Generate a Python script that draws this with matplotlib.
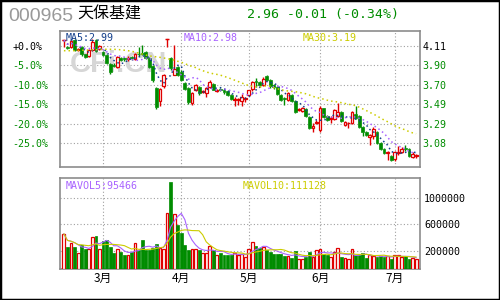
'''
天保基建 日K线 + 成交量
'''
import numpy as np
import pandas as pd
import matplotlib
matplotlib.use('Agg')
from matplotlib import pyplot as plt
from matplotlib.patches import Rectangle


# 近似日K数据
opens = [4.17, 4.10, 4.10, 4.17, 4.07, 4.10, 4.02, 4.00, 4.07, 4.17,
         4.075, 4.05, 4.01, 3.92, 3.91, 3.89, 3.98, 3.98, 3.97, 3.99,
         3.97, 4.03, 4.04, 4.05, 3.98, 3.90, 3.67, 3.53, 3.69, 4.18,
         3.98, 3.80, 3.89, 3.84, 3.72, 3.67, 3.51, 3.65, 3.68, 3.62,
         3.61, 3.68, 3.71, 3.63, 3.66, 3.65, 3.63, 3.59, 3.54, 3.54,
         3.53, 3.55, 3.59, 3.66, 3.74, 3.73, 3.70, 3.79, 3.75, 3.70,
         3.68, 3.59, 3.56, 3.54, 3.59, 3.53, 3.43, 3.42, 3.44, 3.36,
         3.24, 3.30, 3.22, 3.45, 3.37, 3.34, 3.34, 3.37, 3.41, 3.28,
         3.295, 3.30, 3.39, 3.37, 3.25, 3.20, 3.15, 3.16, 3.20, 3.09,
         3.02, 2.985, 2.95, 2.92, 2.985, 2.99, 3.03, 3.02, 2.94, 2.95]
highs = [4.17, 4.11, 4.17, 4.18, 4.09, 4.11, 4.03, 4.08, 4.18, 4.18,
         4.12, 4.06, 4.02, 3.93, 3.93, 4.00, 3.99, 3.99, 4.00, 4.00,
         4.04, 4.10, 4.12, 4.06, 3.99, 3.91, 3.68, 3.67, 3.81, 4.18,
         3.99, 4.12, 3.90, 3.86, 3.73, 3.68, 3.62, 3.71, 3.69, 3.65,
         3.68, 3.75, 3.72, 3.66, 3.67, 3.66, 3.64, 3.60, 3.57, 3.56,
         3.60, 3.57, 3.65, 3.74, 3.77, 3.74, 3.78, 3.80, 3.76, 3.71,
         3.69, 3.60, 3.57, 3.62, 3.60, 3.54, 3.45, 3.47, 3.45, 3.37,
         3.30, 3.33, 3.48, 3.46, 3.38, 3.37, 3.44, 3.51, 3.42, 3.32,
         3.31, 3.42, 3.48, 3.38, 3.26, 3.21, 3.18, 3.25, 3.21, 3.10,
         3.03, 3.00, 2.96, 3.00, 3.05, 3.04, 3.06, 3.03, 2.99, 2.97]
lows = [4.10, 4.08, 4.09, 4.06, 4.06, 4.00, 3.98, 3.99, 4.06, 4.05,
        4.07, 4.00, 3.92, 3.81, 3.89, 3.88, 3.95, 3.95, 3.95, 3.96,
        3.96, 4.00, 4.01, 3.97, 3.88, 3.73, 3.44, 3.48, 3.67, 4.10,
        3.86, 3.80, 3.79, 3.74, 3.65, 3.50, 3.49, 3.63, 3.59, 3.61,
        3.57, 3.67, 3.64, 3.62, 3.63, 3.60, 3.58, 3.54, 3.48, 3.49,
        3.48, 3.52, 3.58, 3.63, 3.68, 3.69, 3.69, 3.74, 3.67, 3.66,
        3.59, 3.53, 3.49, 3.53, 3.52, 3.40, 3.42, 3.41, 3.36, 3.23,
        3.20, 3.29, 3.20, 3.35, 3.32, 3.30, 3.33, 3.36, 3.31, 3.26,
        3.24, 3.29, 3.34, 3.24, 3.16, 3.16, 3.06, 3.13, 3.08, 3.01,
        2.97, 2.91, 2.90, 2.90, 2.96, 2.98, 3.00, 2.94, 2.93, 2.93]
closes = [4.17, 4.09, 4.16, 4.07, 4.08, 4.02, 3.99, 4.07, 4.15, 4.06,
          4.11, 4.01, 3.93, 3.84, 3.90, 3.99, 3.96, 3.97, 3.98, 3.98,
          4.02, 4.02, 4.02, 3.98, 3.89, 3.75, 3.47, 3.66, 3.80, 4.18,
          3.88, 3.87, 3.80, 3.75, 3.66, 3.52, 3.61, 3.70, 3.61, 3.63,
          3.67, 3.73, 3.65, 3.65, 3.65, 3.62, 3.59, 3.55, 3.55, 3.55,
          3.57, 3.56, 3.64, 3.73, 3.73, 3.70, 3.76, 3.75, 3.69, 3.68,
          3.60, 3.54, 3.55, 3.61, 3.53, 3.41, 3.44, 3.46, 3.37, 3.24,
          3.26, 3.31, 3.45, 3.36, 3.33, 3.35, 3.43, 3.41, 3.32, 3.31,
          3.30, 3.41, 3.35, 3.25, 3.20, 3.17, 3.17, 3.23, 3.09, 3.02,
          2.98, 2.99, 2.91, 2.99, 2.99, 3.02, 3.02, 2.95, 2.97, 2.96]
volumes = [458000, 263000, 323000, 263000, 173000, 288000, 238000, 238000, 408000, 433000,
           238000, 358000, 368000, 263000, 173000, 238000, 188000, 148000, 148000, 188000,
           323000, 223000, 373000, 223000, 223000, 248000, 313000, 248000, 238000, 773000,
           1238000, 758000, 598000, 473000, 298000, 223000, 238000, 238000, 223000, 173000,
           173000, 273000, 223000, 138000, 173000, 148000, 138000, 148000, 173000, 138000,
           158000, 113000, 233000, 338000, 278000, 248000, 263000, 223000, 188000, 158000,
           158000, 158000, 133000, 123000, 98000, 203000, 83000, 83000, 113000, 188000,
           113000, 218000, 233000, 158000, 138000, 113000, 188000, 248000, 113000, 98000,
           83000, 233000, 138000, 138000, 168000, 98000, 138000, 123000, 113000, 123000,
           113000, 123000, 83000, 148000, 138000, 108000, 123000, 83000, 98000, 88000]

# 前29天窗口不足30日，MA30直接按图上读数
ma30_head = [4.06, 4.06, 4.06, 4.06, 4.063, 4.065, 4.065, 4.068, 4.07, 4.07,
             4.072, 4.075, 4.075, 4.075, 4.075, 4.072, 4.07, 4.065, 4.06, 4.055,
             4.045, 4.035, 4.025, 4.015, 4.005, 4.0, 3.995, 3.99, 3.983]

month_start = [11, 33, 52, 72, 93]
month_labels = ['3月', '4月', '5月', '6月', '7月']

base_price = 4.11
pct_levels = [0, -5, -10, -15, -20, -25]
vol_ticks = [200000, 600000, 1000000]

stock_code = '000965'
stock_name = '天保基建'
quote_text = '2.96 -0.01 (-0.34%)'
ma_texts = ['MA5:2.99', 'MA10:2.98', 'MA30:3.19']
mavol_texts = ['MAVOL5:95466', 'MAVOL10:111128']

RED = '#e00000'
GREEN = '#008c00'
C_MA5 = '#14408c'
C_MA10 = '#a862ff'
C_MA30 = '#cccc00'
GRID = '#a0a0a0'
FRAME = '#8c8c8c'
MONO = 'DejaVu Sans Mono'
CJK = 'Noto Sans CJK SC'

o = np.array(opens)
h = np.array(highs)
l = np.array(lows)
c = np.array(closes)
v = np.array(volumes)
x = np.arange(len(c))
up = c >= o
colors = np.where(up, RED, GREEN)

fig = plt.figure(figsize=(5, 3), dpi=100)
fig.patch.set_facecolor('white')
fig.add_artist(Rectangle((0, 0), 1, 1, transform=fig.transFigure,
                         fill=False, edgecolor='black', lw=2.5))

ax = fig.add_axes([60/500, 133/300, 360/500, 136/300])
axv = fig.add_axes([60/500, 31/300, 360/500, 91/300])

for a in (ax, axv):
    a.set_xlim(-1.1, 100.1)
    for s in a.spines.values():
        s.set_color(FRAME)
        s.set_linewidth(1.2)
    a.set_xticks(month_start)
    a.grid(True, color=GRID, linestyle=(0, (1, 2)), linewidth=0.8)
    a.set_axisbelow(True)

# ---- K线 ----
price_ticks = [base_price * (1 + p / 100) for p in pct_levels]
ax.set_ylim(2.832, 4.268)
ax.set_yticks(price_ticks)
ax.set_yticklabels(['%+.1f%%' % p if p == 0 else '%.1f%%' % p for p in pct_levels],
                   family=MONO, fontsize=7.2)
ax.tick_params(axis='y', length=0, pad=34.5)
for lab in ax.get_yticklabels():
    lab.set_ha('left')
ax.tick_params(axis='x', length=0, labelbottom=False)

axr = ax.twinx()
axr.set_ylim(ax.get_ylim())
axr.set_yticks(price_ticks)
axr.set_yticklabels(['%.2f' % p for p in price_ticks], family=MONO, fontsize=7.2)
axr.tick_params(axis='y', length=0, pad=1.5)
for s in axr.spines.values():
    s.set_visible(False)

for labs in (ax.get_yticklabels(), axr.get_yticklabels()):
    for i, lab in enumerate(labs):
        lab.set_color('black' if i == 0 else GREEN)

ax.text(0.161, 0.757, 'CFi.CN', transform=ax.transAxes, ha='center', va='center',
        fontsize=21, fontweight='bold', family='Liberation Sans', color='#d6d6d6', zorder=1)

body_lo = np.minimum(o, c)
body_hi = np.maximum(o, c)
ax.vlines(x, l, body_lo, colors=colors, lw=1, zorder=3)
ax.vlines(x, body_hi, h, colors=colors, lw=1, zorder=3)
ax.bar(x[up], (body_hi - body_lo)[up], bottom=body_lo[up], width=0.8,
       facecolor='white', edgecolor=RED, lw=0.9, zorder=4)
ax.bar(x[~up], (body_hi - body_lo)[~up], bottom=body_lo[~up], width=0.8,
       facecolor=GREEN, edgecolor=GREEN, lw=0.5, zorder=4)
doji = (body_hi - body_lo) < 0.004
ax.hlines(c[doji], x[doji] - 0.5, x[doji] + 0.5, colors=colors[doji], lw=1, zorder=5)

cs = pd.Series(c)
ma5 = cs.rolling(5, min_periods=1).mean()
ma10 = cs.rolling(10, min_periods=1).mean()
ma30 = cs.rolling(30).mean()
ma30[:len(ma30_head)] = ma30_head
for ma, col in zip([ma5, ma10, ma30], [C_MA5, C_MA10, C_MA30]):
    ax.plot(x, ma, color=col, lw=1.1, linestyle=(0, (1, 2)), zorder=5)

for txt, xp, col in zip(ma_texts, [0.016, 0.344, 0.674], [C_MA5, C_MA10, C_MA30]):
    ax.text(xp, 0.946, txt, transform=ax.transAxes, ha='left', va='center',
            family=MONO, fontsize=7.2, color=col, zorder=6)

# ---- 成交量 ----
vlim = (-70000, 1300000)
axv.set_ylim(vlim)
axv.bar(x[up], v[up] - vlim[0], bottom=vlim[0], width=0.8,
        facecolor='white', edgecolor=RED, lw=0.9, zorder=3)
axv.bar(x[~up], v[~up] - vlim[0], bottom=vlim[0], width=0.8,
        facecolor=GREEN, edgecolor=GREEN, lw=0.5, zorder=3)
vs = pd.Series(v)
axv.plot(x, vs.rolling(5, min_periods=1).mean(), color=C_MA10, lw=0.8, zorder=4)
axv.plot(x, vs.rolling(10, min_periods=1).mean(), color=C_MA30, lw=0.8, zorder=4)

axv.yaxis.tick_right()
axv.set_yticks(vol_ticks)
axv.set_yticklabels([str(t) for t in vol_ticks], family=MONO, fontsize=7.2)
axv.tick_params(axis='y', length=0, pad=3)
axv.set_xticklabels(month_labels, family=CJK, fontsize=8.5)
axv.tick_params(axis='x', length=0, pad=2)

for txt, xp, col in zip(mavol_texts, [0.017, 0.5075], [C_MA10, C_MA30]):
    axv.text(xp, 0.912, txt, transform=axv.transAxes, ha='left', va='center',
             family=MONO, fontsize=7.2, color=col, zorder=6)

# ---- 标题 ----
fig.text(8/500, 1 - 16.3/300, stock_code, ha='left', va='center',
         family='Liberation Sans', fontsize=14, color='#999999')
fig.text(77.7/500, 1 - 14/300, stock_name, ha='left', va='center',
         family=CJK, fontsize=11.5, color='black')
fig.text(247/500, 1 - 14.5/300, quote_text, ha='left', va='center',
         family=MONO, fontsize=9.5, color=GREEN)

fig.savefig('out.png', dpi=100)
